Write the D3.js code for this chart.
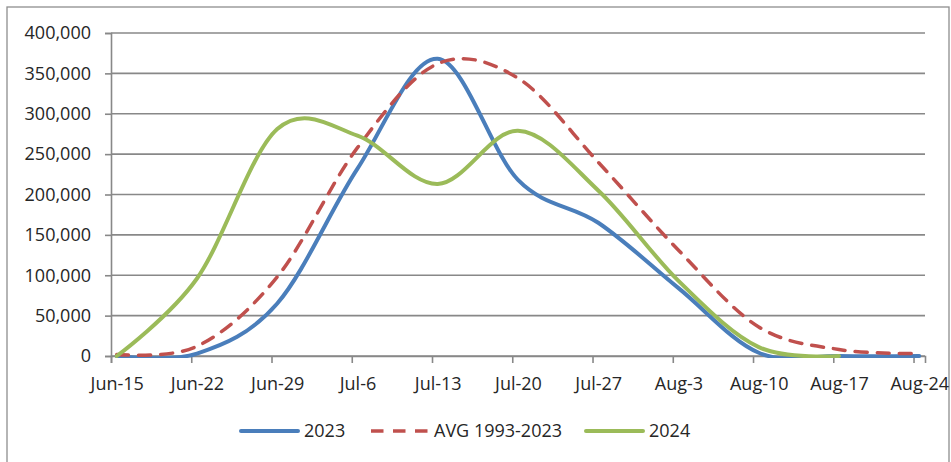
<!DOCTYPE html>
<html>
<head>
<meta charset="utf-8">
<script src="https://cdn.jsdelivr.net/npm/d3@7"></script>
<style>
  html, body { margin: 0; padding: 0; background: #fff; }
  svg { display: block; }
  text { font-family: "Open Sans", "Noto Sans", sans-serif; fill: #262626; }
</style>
</head>
<body>
<svg id="chart" width="951" height="462"></svg>
<script>
// Weekly counts, Jun-15 through Aug-24
const categories = ["Jun-15", "Jun-22", "Jun-29", "Jul-6", "Jul-13", "Jul-20",
                    "Jul-27", "Aug-3", "Aug-10", "Aug-17", "Aug-24"];
const values2023 = [0, 3000, 65000, 232000, 368000, 218000, 165000, 84000, 4000, 0, 0];
const valuesAvg  = [2000, 12000, 98000, 258000, 362000, 344000, 240000, 131000, 36000, 8000, 3000];
const values2024 = [0, 96000, 281000, 273000, 213000, 279000, 205000, 93000, 11000, 0];
const yTicks = [0, 50000, 100000, 150000, 200000, 250000, 300000, 350000, 400000];
const seriesNames = ["2023", "AVG 1993-2023", "2024"];

const svg = d3.select("#chart");
const W = 951, H = 462;
const plot = { left: 111, right: 925, top: 33, bottom: 356 };

const parseDay = d3.utcParse("%b-%d");
const fmtDay = d3.utcFormat("%b-%-d");
const DAY = 864e5;
const firstDay = parseDay(categories[0]);
const lastDay = parseDay(categories[categories.length - 1]);

// Date axis: each day occupies one band; points sit in the middle of their day
const x = d3.scaleUtc()
  .domain([firstDay, new Date(+lastDay + DAY)])
  .range([plot.left, plot.right]);
const halfDay = (x(new Date(+firstDay + DAY)) - x(firstDay)) / 2;

const y = d3.scaleLinear().domain([0, 400000]).range([plot.bottom, plot.top]);

// Outer chart frame
svg.append("rect")
  .attr("x", 7).attr("y", 7).attr("width", 942).attr("height", 470)
  .attr("fill", "#fff").attr("stroke", "#8e8e8e").attr("stroke-width", 1.3);

const gridColor = "#888888";

// Horizontal gridlines
svg.append("g")
  .selectAll("line")
  .data(yTicks)
  .join("line")
  .attr("x1", plot.left).attr("x2", plot.right)
  .attr("y1", d => y(d)).attr("y2", d => y(d))
  .attr("stroke", gridColor).attr("stroke-width", 1.6);

// Y axis
const yAxis = svg.append("g")
  .attr("transform", `translate(${plot.left},0)`)
  .call(d3.axisLeft(y).tickValues(yTicks).tickFormat(d3.format(",")).tickSize(6).tickPadding(14));
yAxis.select(".domain").attr("stroke", gridColor).attr("stroke-width", 1.6);
yAxis.selectAll(".tick line").attr("stroke", gridColor).attr("stroke-width", 1.6);
yAxis.selectAll("text").attr("font-size", 18).attr("fill", "#262626")
  .attr("font-family", '"Open Sans", sans-serif');

// X axis with weekly ticks on day boundaries, labels centred on the day
const tickDates = categories.map(parseDay);
const xAxis = svg.append("g")
  .attr("transform", `translate(0,${plot.bottom})`)
  .call(d3.axisBottom(x).tickValues(tickDates).tickFormat(fmtDay).tickSize(7).tickPadding(14));
xAxis.select(".domain").attr("stroke", gridColor).attr("stroke-width", 1.6);
xAxis.selectAll(".tick line").attr("stroke", gridColor).attr("stroke-width", 1.6);
xAxis.selectAll("text").attr("font-size", 18).attr("fill", "#262626")
  .attr("font-family", '"Open Sans", sans-serif')
  .attr("transform", `translate(${halfDay},0)`);

// Series lines
svg.append("clipPath").attr("id", "plotclip")
  .append("rect").attr("x", plot.left).attr("y", plot.top - 10)
  .attr("width", plot.right - plot.left + 6).attr("height", plot.bottom - plot.top + 12);

const line = d3.line()
  .x((d, i) => x(new Date(+parseDay(categories[i]) + DAY / 2)))
  .y(d => y(d))
  .curve(d3.curveCatmullRom.alpha(0));

const series = [
  { name: seriesNames[0], values: values2023, color: "#4A7EBB", width: 4, dash: null },
  { name: seriesNames[1], values: valuesAvg,  color: "#C0504D", width: 3.5, dash: "12,10" },
  { name: seriesNames[2], values: values2024, color: "#9BBB59", width: 4, dash: null }
];

const lines = svg.append("g").attr("clip-path", "url(#plotclip)");
series.forEach(s => {
  lines.append("path")
    .datum(s.values)
    .attr("d", line)
    .attr("fill", "none")
    .attr("stroke", s.color)
    .attr("stroke-width", s.width)
    .attr("stroke-linecap", "round")
    .attr("stroke-linejoin", "round")
    .attr("stroke-dasharray", s.dash);
});

// Legend
const legendY = 431;
const legendX = [241, 371, 586];
const legend = svg.append("g");
series.forEach((s, i) => {
  const g = legend.append("g").attr("transform", `translate(${legendX[i]},${legendY})`);
  g.append("line")
    .attr("x1", 0).attr("x2", 57).attr("y1", 0).attr("y2", 0)
    .attr("stroke", s.color).attr("stroke-width", s.width)
    .attr("stroke-linecap", s.dash ? "butt" : "round")
    .attr("stroke-dasharray", s.dash ? "12.5,9.5" : null);
  g.append("text")
    .attr("x", 63).attr("y", 0).attr("dy", "0.36em")
    .attr("font-size", 18)
    .text(s.name);
});
</script>
</body>
</html>
